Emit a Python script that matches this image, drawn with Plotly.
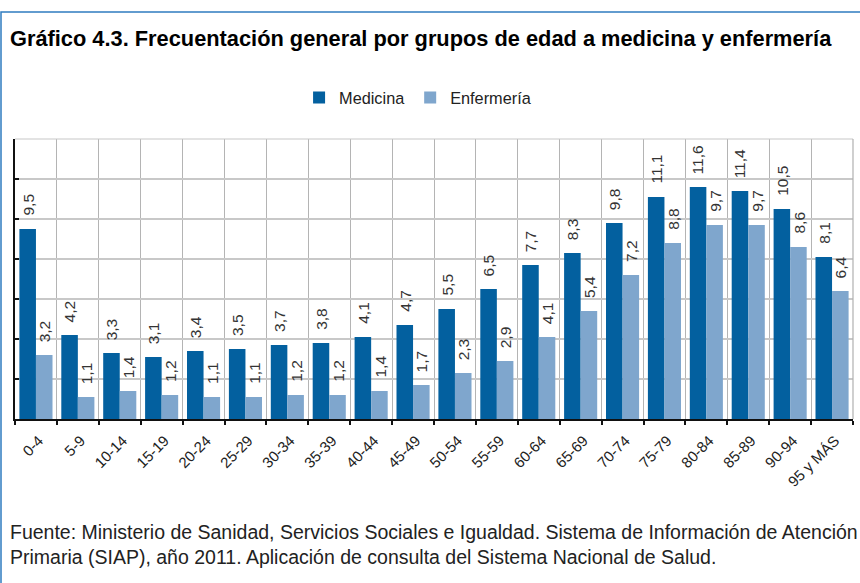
import plotly.graph_objects as go

categories = ["0-4", "5-9", "10-14", "15-19", "20-24", "25-29", "30-34", "35-39", "40-44",
              "45-49", "50-54", "55-59", "60-64", "65-69", "70-74", "75-79", "80-84", "85-89",
              "90-94", "95 y MÁS"]
medicina = [9.5, 4.2, 3.3, 3.1, 3.4, 3.5, 3.7, 3.8, 4.1, 4.7, 5.5, 6.5, 7.7, 8.3, 9.8, 11.1, 11.6, 11.4, 10.5, 8.1]
enfermeria = [3.2, 1.1, 1.4, 1.2, 1.1, 1.1, 1.2, 1.2, 1.4, 1.7, 2.3, 2.9, 4.1, 5.4, 7.2, 8.8, 9.7, 9.7, 8.6, 6.4]

C_MED = "#03609f"
C_ENF = "#7fa6cd"
FONT = "Liberation Sans, Arial, sans-serif"

W, H = 860, 583
ML, MR, MT, MB = 15, 7, 139, 164
PW = W - ML - MR
PH = H - MT - MB


def px_x(px):
    return (px - ML) / PW


def px_y(py):
    return (H - MB - py) / PH


fig = go.Figure()
fig.add_trace(go.Bar(name="Medicina", x=categories, y=medicina, marker_color=C_MED,
                     marker_line_width=0))
fig.add_trace(go.Bar(name="Enfermería", x=categories, y=enfermeria, marker_color=C_ENF,
                     marker_line_width=0))


def fmt(v):
    return f"{v:.1f}".replace(".", ",")


annotations = []
for cat, m, e in zip(categories, medicina, enfermeria):
    for val, shift in ((m, -8.4), (e, 8.4)):
        annotations.append(dict(
            x=cat, y=val, xref="x", yref="y", text=fmt(val), showarrow=False,
            textangle=-90, xshift=shift, yshift=11, yanchor="bottom", xanchor="center",
            font=dict(family=FONT, size=15.5, color="#333333")))

annotations.append(dict(
    x=px_x(8), y=px_y(38.5), xref="paper", yref="paper", xanchor="left", yanchor="middle",
    showarrow=False, align="left",
    text="<b>Gráfico 4.3. Frecuentación general por grupos de edad a medicina y enfermería</b>",
    font=dict(family=FONT, size=21.8, color="#000000")))

annotations.append(dict(
    x=px_x(8), y=px_y(544), xref="paper", yref="paper", xanchor="left", yanchor="middle",
    showarrow=False, align="left",
    text="Fuente: Ministerio de Sanidad, Servicios Sociales e Igualdad. Sistema de Información de Atención<br>"
         "Primaria (SIAP), año 2011. Aplicación de consulta del Sistema Nacional de Salud.",
    font=dict(family=FONT, size=19.5, color="#222222")))

shapes = [
    dict(type="rect", xref="paper", yref="paper", x0=px_x(1), y0=px_y(12), x1=px_x(900), y1=px_y(640),
         line=dict(color="#2f7cc0", width=1.5), layer="below"),
    dict(type="line", xref="paper", yref="paper", x0=0, x1=1, y0=1, y1=1,
         line=dict(color="#c8c8c8", width=1.2)),
    dict(type="line", xref="paper", yref="paper", x0=1, x1=1, y0=0, y1=1,
         line=dict(color="#b0b0b0", width=1.2)),
]

fig.update_layout(
    width=W, height=H,
    margin=dict(l=ML, r=MR, t=MT, b=MB, pad=0),
    paper_bgcolor="white", plot_bgcolor="white",
    barmode="group", bargap=0.21, bargroupgap=0,
    font=dict(family=FONT, color="#222222"),
    legend=dict(orientation="h", x=0.481, xanchor="center", y=px_y(98), yanchor="middle",
                font=dict(family=FONT, size=16.3, color="#222222"), itemwidth=30,
                traceorder="normal"),
    annotations=annotations,
    shapes=shapes,
    xaxis=dict(type="category", tickson="boundaries", showgrid=True, gridcolor="#b4b4b4",
               gridwidth=1.2, showline=True, linecolor="#111111", linewidth=2,
               ticks="outside", ticklen=4, tickcolor="#111111", tickwidth=2,
               tickangle=-45, tickfont=dict(family=FONT, size=15, color="#222222"),
               ticklabelstandoff=5, ticklabelshift=3,
               range=[-0.5, len(categories) - 0.5]),
    yaxis=dict(range=[0, 14], dtick=2, showgrid=True, gridcolor="#c8c8c8", gridwidth=1.5,
               showline=True, linecolor="#111111", linewidth=2, ticks="inside", ticklen=4,
               tickcolor="#111111", tickwidth=2, showticklabels=False, zeroline=False),
)

fig.write_html("out.html", config={"displayModeBar": False},
               post_script="document.body.style.margin='0';document.body.style.padding='0';")
